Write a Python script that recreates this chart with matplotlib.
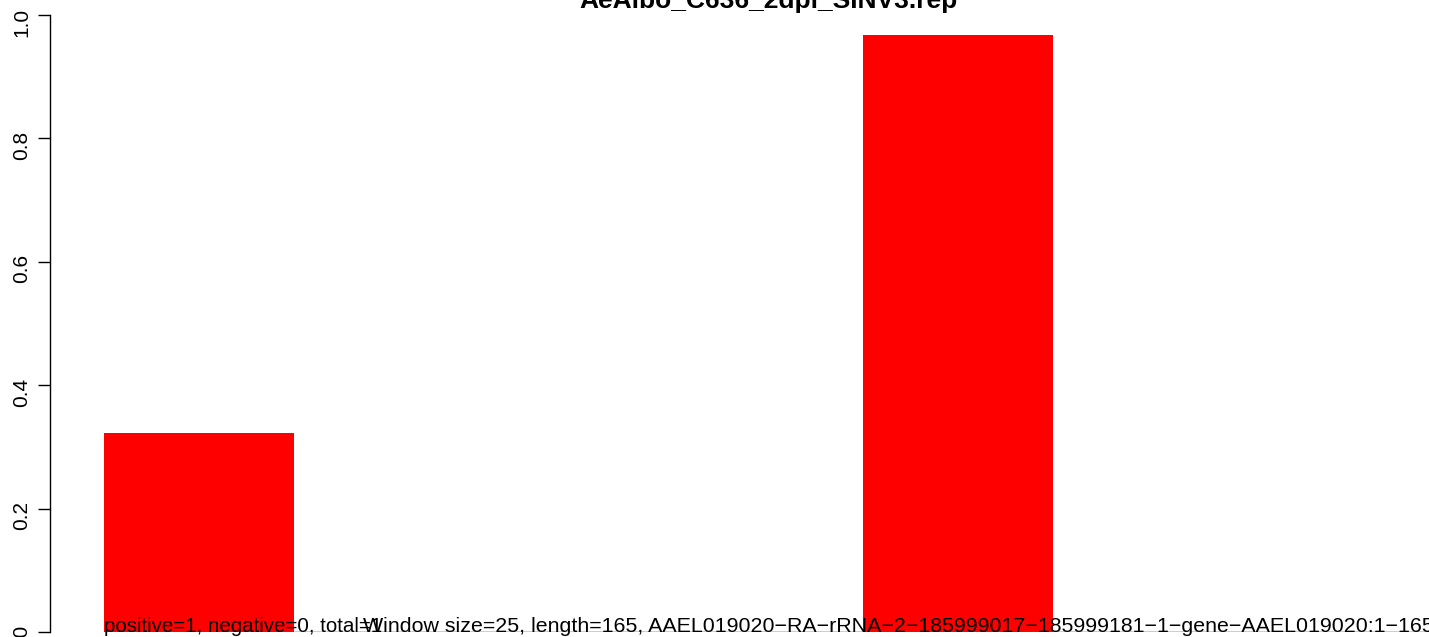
import matplotlib
matplotlib.use('Agg')
from matplotlib import pyplot as plt

plt.rcParams['font.family'] = ['Liberation Sans', 'DejaVu Sans']

# window values (7 windows of size 25 over length 165)
windows = [0, 1, 2, 3, 4, 5, 6]
values = [0.3225, 0.0, 0.0, 0.0, 0.968, 0.0, 0.0]
y_ticks = [0.0, 0.2, 0.4, 0.6, 0.8, 1.0]

title = 'AeAlbo_C636_2dpi_SINV3.rep'
stats_text = 'positive=1, negative=0, total=1'
info_text = ('Window size=25, length=165, '
             'AAEL019020\u2212RA\u2212rRNA\u22122\u2212185999017\u2212185999181'
             '\u22121\u2212gene\u2212AAEL019020:1\u2212165')

W, H = 1429, 637
fig = plt.figure(figsize=(W / 100, H / 100), dpi=100)
ax = fig.add_axes([104 / W, 5 / H, (1432 - 104) / W, (632 - 15) / H])

# zero bars keep a black border, filled bars have none
edges = ['none' if v > 0 else 'black' for v in values]
ax.bar(windows, values, width=1.0, align='edge', color='#ff0000',
       edgecolor=edges, linewidth=1.0)

ax.set_xlim(0, 7)
ax.set_ylim(0, 1)
ax.set_yticks(y_ticks)
ax.set_yticklabels([f'{t:.1f}' for t in y_ticks])
ax.tick_params(axis='y', direction='out', length=8.6, width=1, pad=5,
               labelsize=15, labelrotation=90)
for lab in ax.get_yticklabels():
    lab.set_rotation(90)
    lab.set_verticalalignment('center')
ax.set_xticks([])

for s in ['top', 'right', 'bottom']:
    ax.spines[s].set_visible(False)
ax.spines['left'].set_position(('outward', 54 * 0.72))
ax.spines['left'].set_linewidth(1)

ax.text(0, 0, stats_text, fontsize=14.8, va='baseline', ha='left', clip_on=False)
ax.text(1.365, 0, info_text, fontsize=15.4, va='baseline', ha='left', clip_on=False)

fig.text(768 / W, 1 - 8 / H, title, fontsize=19, fontweight='bold',
         ha='center', va='baseline')

fig.savefig('out.png', dpi=100)
